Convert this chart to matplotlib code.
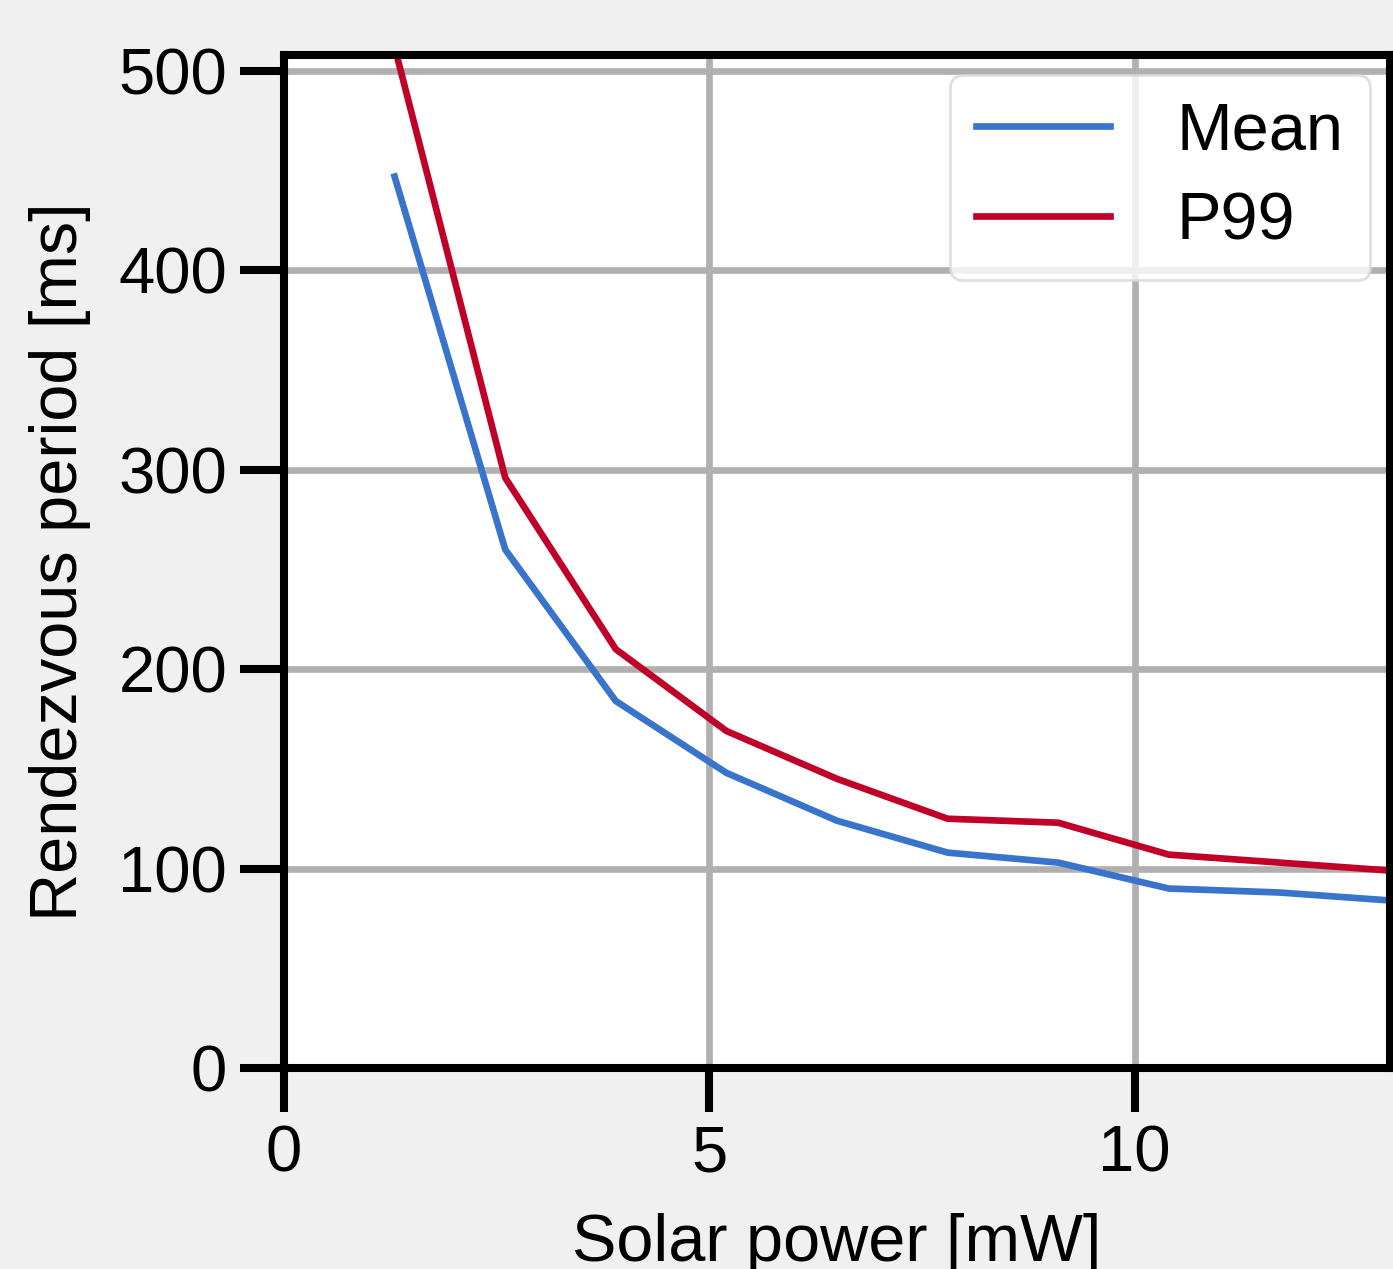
import matplotlib.pyplot as plt

plt.rcParams['font.family'] = ['Liberation Sans', 'DejaVu Sans']

solar_power = [1.3, 2.6, 3.9, 5.2, 6.5, 7.8, 9.1, 10.4, 11.7, 13.0]
mean_period = [447, 260, 184, 148, 124, 108, 103, 90, 88, 84]
p99_period = [512, 296, 210, 169, 145, 125, 123, 107, 103, 99]

dpi = 100
fig = plt.figure(figsize=(13.93, 12.69), dpi=dpi, facecolor='#f0f0f0')
ax = fig.add_axes([0.2039, 0.1584, 0.7939, 0.7983])

ax.plot(solar_power, mean_period, color='#3874cb', lw=4.8, label='Mean')
ax.plot(solar_power, p99_period, color='#c00028', lw=4.8, label='P99')

ax.set_xlim(0, 13)
ax.set_ylim(0, 508)
ax.set_xticks([0, 5, 10])
ax.set_yticks([0, 100, 200, 300, 400, 500])
ax.grid(True, color='#b0b0b0', lw=4.8)
ax.set_axisbelow(True)

for s in ax.spines.values():
    s.set_linewidth(5.8)
ax.tick_params(direction='out', length=32, width=5.8, labelsize=47, pad=9)

ax.set_xlabel('Solar power [mW]', fontsize=48, labelpad=20)
ax.set_ylabel('Rendezvous period [ms]', fontsize=48, labelpad=20)

leg = ax.legend(loc='upper right', fontsize=48, framealpha=0.8,
                edgecolor='#d8d8d8', borderaxespad=0.3, handlelength=2.0,
                borderpad=0.4, handletextpad=1.0, labelspacing=0.42)
leg.get_frame().set_linewidth(2)

fig.savefig('out.png', dpi=dpi, facecolor=fig.get_facecolor())
